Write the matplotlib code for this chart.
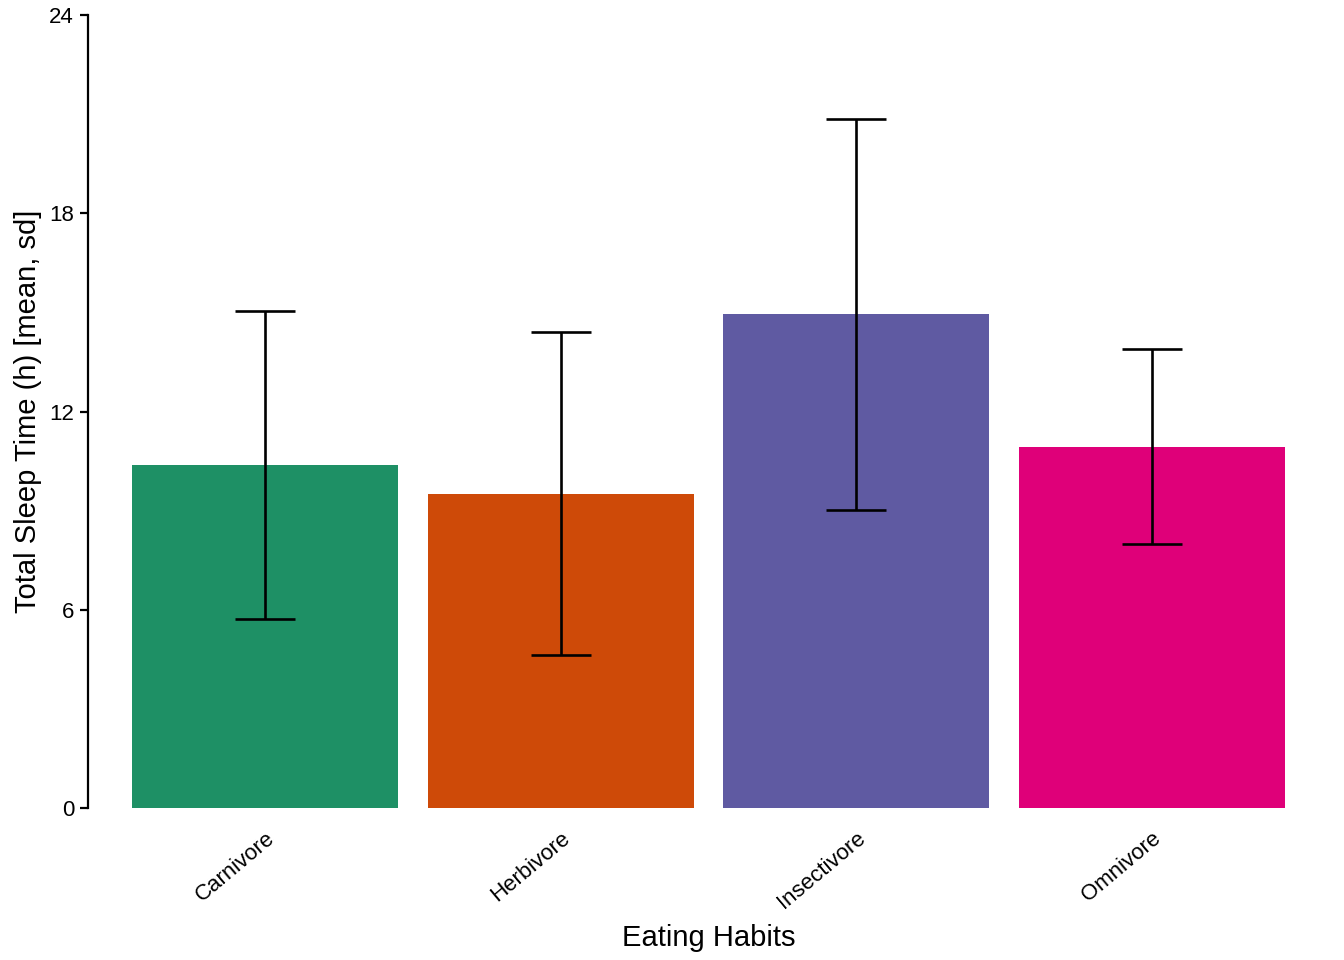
import numpy as np
import matplotlib.pyplot as plt

plt.rcParams['font.family'] = ['Liberation Sans', 'DejaVu Sans']

habitos = ['Carnivore', 'Herbivore', 'Insectivore', 'Omnivore']
media = [10.38, 9.51, 14.94, 10.93]
desvio = [4.67, 4.89, 5.92, 2.95]
colores = ['#1E9065', '#CE4A08', '#5F5AA2', '#DF0079']

fig = plt.figure(figsize=(13.44, 9.6), dpi=100)
ax = fig.add_axes([88/1344, 152/960, (1329-88)/1344, (808-15)/960])

x = np.arange(1, len(habitos)+1)
ax.bar(x, media, width=0.9, color=colores, zorder=1)
ax.errorbar(x, media, yerr=desvio, fmt='none', ecolor='black', elinewidth=1.9,
            capsize=21.5, capthick=1.9, zorder=2)

ax.set_xlim(0.4, 4.6)
ax.set_ylim(0, 24)
ax.set_yticks([0, 6, 12, 18, 24])
ax.set_xticks(x)
ax.set_xticklabels(habitos, rotation=40, ha='right', rotation_mode='anchor', fontsize=16)
ax.tick_params(axis='x', length=0, pad=14)
ax.tick_params(axis='y', length=6, width=1.6, labelsize=16, pad=4)

for s in ['top', 'right', 'bottom']:
    ax.spines[s].set_visible(False)
ax.spines['left'].set_linewidth(1.6)

ax.set_xlabel('Eating Habits', fontsize=21, labelpad=8)
ax.set_ylabel('Total Sleep Time (h) [mean, sd]', fontsize=21, labelpad=5)

fig.savefig('out.png', dpi=100)
